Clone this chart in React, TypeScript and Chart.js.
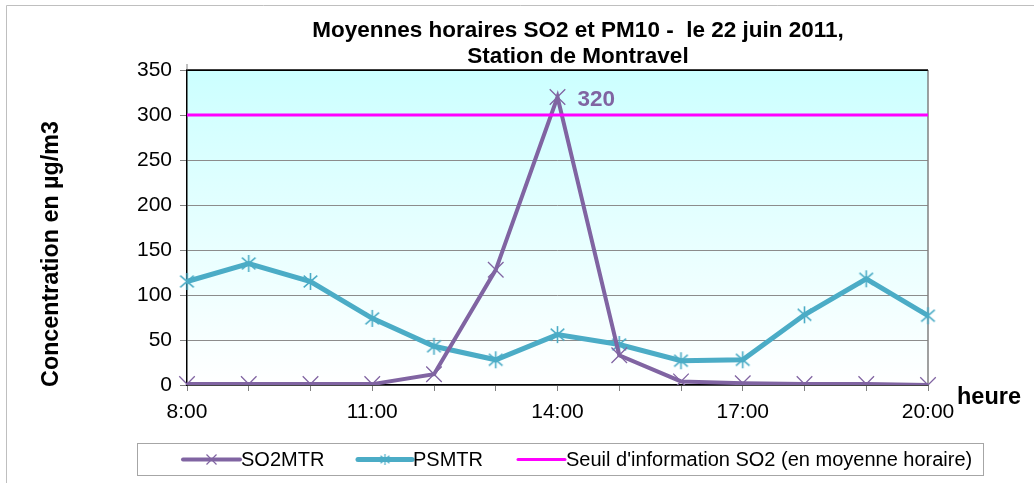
import { useEffect, useRef } from 'react';
import { Chart, registerables } from 'chart.js';

Chart.register(...registerables);

const hours = ['8:00', '9:00', '10:00', '11:00', '12:00', '13:00', '14:00', '15:00', '16:00', '17:00', '18:00', '19:00', '20:00'];
const shownHourLabels = ['8:00', '11:00', '14:00', '17:00', '20:00'];
const so2Values = [1, 1, 1, 1, 12, 128, 320, 33, 4, 2, 1, 1, 0];
const psValues = [115, 135, 115, 74, 43, 28, 56, 45, 27, 28, 78, 118, 77];
const seuilValues = [300, 300, 300, 300, 300, 300, 300, 300, 300, 300, 300, 300, 300];
const seriesNames = ['SO2MTR', 'PSMTR', "Seuil d'information SO2 (en moyenne horaire)"];
const titleLines = ['Moyennes horaires SO2 et PM10 -  le 22 juin 2011,', 'Station de Montravel'];
const yAxisTitle = 'Concentration en µg/m3';
const xAxisTitle = 'heure';
const yMin = 0;
const yMax = 350;
const yStep = 50;

const SO2_COLOR = '#8064A2';
const PS_COLOR = '#4BACC6';
const SEUIL_COLOR = '#FF00FF';
const FONT = '"Liberation Sans", Arial, sans-serif';

function makeAsterisk(color: string, size: number, lw: number): HTMLCanvasElement {
  const c = document.createElement('canvas');
  c.width = size;
  c.height = size;
  const g = c.getContext('2d')!;
  g.strokeStyle = color;
  g.lineWidth = lw;
  const m = size / 2;
  const r = size / 2 - 1;
  const d = r * 0.8;
  g.beginPath();
  g.moveTo(m, m - r);
  g.lineTo(m, m + r);
  g.moveTo(m - d, m - d * 0.85);
  g.lineTo(m + d, m + d * 0.85);
  g.moveTo(m + d, m - d * 0.85);
  g.lineTo(m - d, m + d * 0.85);
  g.stroke();
  return c;
}

function drawCrossRot(ctx: CanvasRenderingContext2D, x: number, y: number, h: number, color: string, lw: number) {
  ctx.save();
  ctx.strokeStyle = color;
  ctx.lineWidth = lw;
  ctx.beginPath();
  ctx.moveTo(x - h, y - h);
  ctx.lineTo(x + h, y + h);
  ctx.moveTo(x + h, y - h);
  ctx.lineTo(x - h, y + h);
  ctx.stroke();
  ctx.restore();
}

export default function App() {
  const ref = useRef<HTMLCanvasElement | null>(null);

  useEffect(() => {
    if (!ref.current) return;
    const asterisk = makeAsterisk(PS_COLOR, 19, 1.6);
    const asteriskSmall = makeAsterisk(PS_COLOR, 13, 1.2);

    const decorPlugin = {
      id: 'decor',
      beforeDraw(chart: any) {
        const { ctx, chartArea: a } = chart;
        ctx.save();
        const grad = ctx.createLinearGradient(0, a.top, 0, a.bottom);
        grad.addColorStop(0, '#CCFFFF');
        grad.addColorStop(1, '#FFFFFF');
        ctx.fillStyle = grad;
        ctx.fillRect(a.left, a.top, a.right - a.left, a.bottom - a.top);
        ctx.restore();
      },
      beforeDatasetsDraw(chart: any) {
        const { ctx, chartArea: a } = chart;
        ctx.save();
        ctx.strokeStyle = '#808080';
        ctx.lineWidth = 1.5;
        ctx.beginPath();
        ctx.moveTo(a.right, a.top);
        ctx.lineTo(a.right, a.bottom);
        ctx.stroke();
        ctx.strokeStyle = '#000000';
        ctx.lineWidth = 1.5;
        ctx.beginPath();
        ctx.moveTo(a.left, a.top);
        ctx.lineTo(a.right, a.top);
        ctx.stroke();
        ctx.strokeStyle = '#808080';
        ctx.lineWidth = 1;
        ctx.beginPath();
        ctx.moveTo(a.left, a.top - 6);
        ctx.lineTo(a.left, a.top);
        ctx.stroke();
        ctx.restore();
      },
      afterDraw(chart: any) {
        const { ctx, chartArea: a } = chart;
        ctx.save();
        // outer frame
        ctx.strokeStyle = '#BFBFBF';
        ctx.lineWidth = 1;
        ctx.beginPath();
        ctx.moveTo(6.5, 483);
        ctx.lineTo(6.5, 5.5);
        ctx.lineTo(1034, 5.5);
        ctx.stroke();

        // chart title
        ctx.fillStyle = '#000';
        ctx.font = `bold 22.5px ${FONT}`;
        ctx.textAlign = 'center';
        ctx.textBaseline = 'middle';
        ctx.fillText(titleLines[0], 578, 31);
        ctx.fillText(titleLines[1], 578, 57);

        // y axis title
        ctx.font = `bold 23.3px ${FONT}`;
        ctx.save();
        ctx.translate(52, 254);
        ctx.rotate(-Math.PI / 2);
        ctx.fillText(yAxisTitle, 0, 0);
        ctx.restore();

        // x axis title
        ctx.font = `bold 23.5px ${FONT}`;
        ctx.textAlign = 'left';
        ctx.fillText(xAxisTitle, a.right + 29, a.bottom + 13);

        // peak label
        const meta = chart.getDatasetMeta(1);
        let iMax = 0;
        so2Values.forEach((v, i) => { if (v > so2Values[iMax]) iMax = i; });
        const pt = meta.data[iMax];
        ctx.fillStyle = SO2_COLOR;
        ctx.font = `bold 22.5px ${FONT}`;
        ctx.textAlign = 'left';
        ctx.fillText(String(so2Values[iMax]), pt.x + 20, pt.y + 3);

        // legend
        const lx = 137.5, ly = 443.5, lw = 846, lh = 32;
        ctx.strokeStyle = '#A6A6A6';
        ctx.lineWidth = 1;
        ctx.strokeRect(lx, ly, lw, lh);
        const cy = ly + lh / 2;
        const items = [
          { x0: 183, x1: 240, color: SO2_COLOR, w: 4, marker: 'x' },
          { x0: 358, x1: 412, color: PS_COLOR, w: 5, marker: '*' },
          { x0: 518, x1: 565, color: SEUIL_COLOR, w: 3, marker: '' },
        ];
        ctx.font = `20px ${FONT}`;
        ctx.textBaseline = 'middle';
        items.forEach((it, i) => {
          ctx.strokeStyle = it.color;
          ctx.lineWidth = it.w;
          ctx.lineCap = 'round';
          ctx.beginPath();
          ctx.moveTo(it.x0, cy);
          ctx.lineTo(it.x1, cy);
          ctx.stroke();
          ctx.lineCap = 'butt';
          const mx = (it.x0 + it.x1) / 2;
          if (it.marker === 'x') drawCrossRot(ctx, mx, cy, 5, it.color, 1.2);
          if (it.marker === '*') ctx.drawImage(asteriskSmall, mx - 6.5, cy - 6.5);
          ctx.fillStyle = '#000';
          ctx.fillText(seriesNames[i], it.x1 + 1, cy + 1);
        });
        ctx.restore();
      },
    };

    const tickFont = { family: FONT, size: 21 };

    const chart = new Chart(ref.current, {
      type: 'line',
      data: {
        labels: hours,
        datasets: [
          {
            label: seriesNames[2],
            data: seuilValues,
            borderColor: SEUIL_COLOR,
            backgroundColor: SEUIL_COLOR,
            borderWidth: 3,
            pointRadius: 0,
            order: 0,
          },
          {
            label: seriesNames[0],
            data: so2Values,
            borderColor: SO2_COLOR,
            backgroundColor: SO2_COLOR,
            borderWidth: 4,
            pointStyle: 'crossRot',
            pointRadius: 11,
            pointBorderWidth: 1.3,
            pointBorderColor: SO2_COLOR,
            order: 1,
          },
          {
            label: seriesNames[1],
            data: psValues,
            borderColor: PS_COLOR,
            backgroundColor: PS_COLOR,
            borderWidth: 5,
            pointStyle: asterisk as any,
            pointRadius: 9,
            order: 2,
          },
        ],
      },
      options: {
        responsive: false,
        animation: false,
        layout: { padding: { left: 0, right: 106, top: 70, bottom: 58 } },
        plugins: {
          legend: { display: false },
          tooltip: { enabled: false },
          title: { display: false },
        },
        scales: {
          x: {
            type: 'category',
            offset: false,
            grid: { drawOnChartArea: false, tickLength: 6, tickColor: '#808080', tickWidth: 1 },
            border: { color: '#000', width: 1.5 },
            ticks: {
              autoSkip: false,
              maxRotation: 0,
              padding: 9,
              color: '#000',
              font: tickFont,
              callback: (_v: any, i: number) => (shownHourLabels.includes(hours[i]) ? hours[i] : ''),
            },
            afterFit: (s: any) => { s.height = 40; },
          },
          y: {
            min: yMin,
            max: yMax,
            grid: {
              color: (c: any) => (c.tick && c.tick.value === yMax ? '#000' : '#8C8C8C'),
              lineWidth: 1,
              tickLength: 7,
              tickColor: '#808080',
            },
            border: { color: '#000', width: 1.5 },
            ticks: { stepSize: yStep, padding: 8, color: '#000', font: tickFont },
            afterFit: (s: any) => { s.width = 187; },
          },
        },
      },
      plugins: [decorPlugin],
    });
    return () => chart.destroy();
  }, []);

  return (
    <div style={{ position: 'fixed', left: 0, top: 0, width: 1034, height: 483, background: '#fff' }}>
      <canvas ref={ref} width={1034} height={483} style={{ display: 'block' }} />
    </div>
  );
}
